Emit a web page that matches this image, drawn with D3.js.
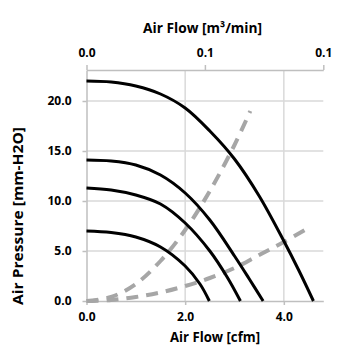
<!DOCTYPE html>
<html><head><meta charset="utf-8">
<script src="https://cdn.jsdelivr.net/npm/d3@7"></script>
<style>body{margin:0;background:#fff}svg{display:block}text{font-family:"Open Sans",Lato,sans-serif;font-weight:bold;fill:#000}</style>
</head><body><svg id="c" width="355" height="355"></svg>
<script>
// Data (x in cfm, y in mm-H2O)
const curve1X = [0, 0.5, 1.0, 1.5, 2.0, 2.5, 3.0, 3.5, 4.0, 4.3, 4.6];
const curve1Y = [22.0, 21.9, 21.5, 20.7, 19.3, 17.0, 14.2, 10.5, 6.0, 3.1, 0];
const curve2X = [0, 0.5, 1.0, 1.5, 2.0, 2.5, 3.0, 3.3, 3.58];
const curve2Y = [14.1, 14.0, 13.6, 12.6, 10.8, 8.1, 4.5, 2.2, 0];
const curve3X = [0, 0.5, 1.0, 1.5, 2.0, 2.5, 2.85, 3.12];
const curve3Y = [11.3, 11.1, 10.6, 9.7, 7.8, 5.0, 2.4, 0];
const curve4X = [0, 0.5, 1.0, 1.5, 2.0, 2.3, 2.49];
const curve4Y = [7.0, 6.85, 6.4, 5.4, 3.5, 1.7, 0];
const impedanceAX = [0, 0.5, 1.0, 1.5, 2.0, 2.5, 3.0, 3.32];
const impedanceAY = [0, 0.4, 1.7, 4.0, 7.1, 11.0, 15.6, 19.0];
const impedanceBX = [0, 0.5, 1.0, 1.5, 2.0, 2.5, 3.0, 3.5, 4.0, 4.5];
const impedanceBY = [0, 0.1, 0.4, 0.85, 1.5, 2.3, 3.3, 4.6, 5.9, 7.3];
const yTicks = [0, 5, 10, 15, 20];
const xTicks = [0, 2, 4];
const xMax = 4.8, yMax = 23.1;
const cfmToM3 = 0.0283168;
const topTicks = [0, xMax * cfmToM3 / 2, xMax * cfmToM3];
const titleTop = "Air Flow [m³/min]";
const titleBottom = "Air Flow [cfm]";
const titleLeft = "Air Pressure [mm-H2O]";

const svg = d3.select("#c");
const L = 86.5, R = 323.3, T = 70, B = 301;
const x = d3.scaleLinear().domain([0, xMax]).range([L, R]);
const y = d3.scaleLinear().domain([0, yMax]).range([B, T]);
const xTop = d3.scaleLinear().domain([0, xMax * cfmToM3]).range([L, R]);

// gridlines
const g = svg.append("g");
g.selectAll(".hg").data(yTicks.filter(d => d > 0)).join("line")
  .attr("x1", L).attr("x2", R).attr("y1", d => y(d)).attr("y2", d => y(d))
  .attr("stroke", "#d9d9d9").attr("stroke-width", 1.5);
g.selectAll(".vg").data(xTicks.filter(d => d > 0)).join("line")
  .attr("y1", T).attr("y2", B).attr("x1", d => x(d)).attr("x2", d => x(d))
  .attr("stroke", "#d9d9d9").attr("stroke-width", 1.5);

function styleAxis(sel) {
  sel.select(".domain").attr("stroke", "#bfbfbf").attr("stroke-width", 1.5);
  sel.selectAll(".tick line").attr("stroke", "#bfbfbf").attr("stroke-width", 1.5);
  sel.selectAll("text").attr("font-size", 12).attr("font-family", "Open Sans").attr("font-weight", "bold").attr("fill", "#000");
}
const ax = svg.append("g").attr("transform", `translate(0,${B})`)
  .call(d3.axisBottom(x).tickValues(xTicks).tickFormat(d3.format(".1f")).tickSize(4).tickSizeOuter(0).tickPadding(7));
styleAxis(ax);
const ay = svg.append("g").attr("transform", `translate(${L},0)`)
  .call(d3.axisLeft(y).tickValues(yTicks).tickFormat(d3.format(".1f")).tickSize(4).tickSizeOuter(0).tickPadding(11));
styleAxis(ay);
const at = svg.append("g").attr("transform", `translate(0,${T})`)
  .call(d3.axisTop(xTop).tickValues(topTicks).tickFormat(d3.format(".1f")).tickSize(5).tickSizeOuter(0).tickPadding(8));
styleAxis(at);

const line = d3.line().x(d => x(d[0])).y(d => y(d[1])).curve(d3.curveCatmullRom.alpha(0.5));
const zip = (a, b) => a.map((v, i) => [v, b[i]]);

[[impedanceAX, impedanceAY], [impedanceBX, impedanceBY]].forEach(([xs, ys]) => {
  svg.append("path").attr("d", line(zip(xs, ys))).attr("fill", "none")
    .attr("stroke", "#a6a6a6").attr("stroke-width", 4).attr("stroke-dasharray", "12,8");
});
[[curve1X, curve1Y], [curve2X, curve2Y], [curve3X, curve3Y], [curve4X, curve4Y]].forEach(([xs, ys]) => {
  svg.append("path").attr("d", line(zip(xs, ys))).attr("fill", "none")
    .attr("stroke", "#000").attr("stroke-width", 3);
});

svg.append("text").attr("x", 202.5).attr("y", 33).attr("text-anchor", "middle")
  .attr("font-size", 14).attr("textLength", 119).attr("lengthAdjust", "spacingAndGlyphs").text(titleTop);
svg.append("text").attr("x", 215).attr("y", 342).attr("text-anchor", "middle")
  .attr("font-size", 14).attr("textLength", 90).attr("lengthAdjust", "spacingAndGlyphs").text(titleBottom);
svg.append("text").attr("transform", "translate(23,216) rotate(-90)").attr("text-anchor", "middle")
  .attr("font-size", 14).attr("textLength", 178).attr("lengthAdjust", "spacingAndGlyphs").text(titleLeft);
</script></body></html>
